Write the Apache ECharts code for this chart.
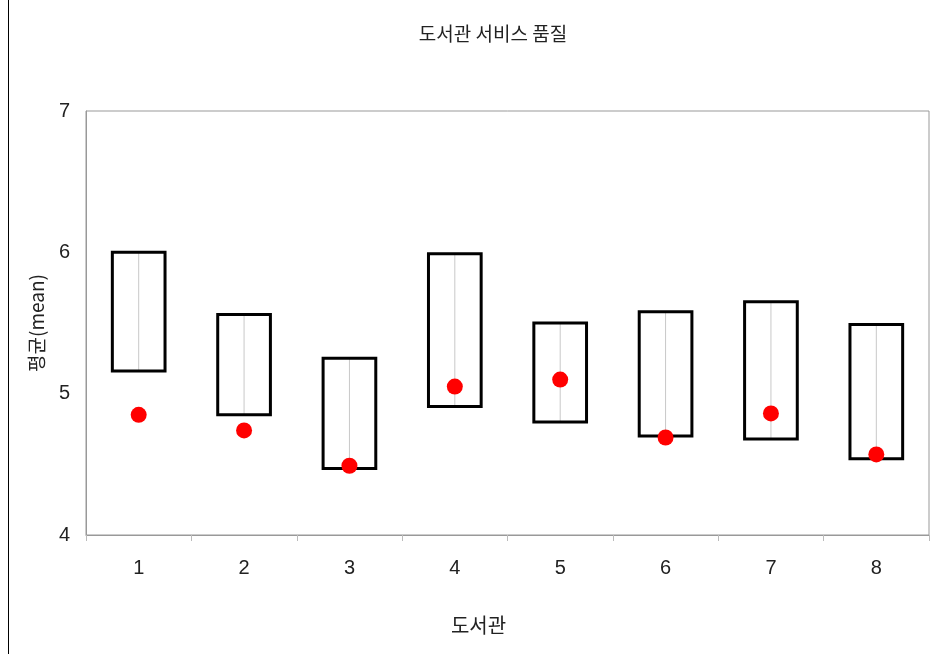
<!DOCTYPE html>
<html>
<head>
<meta charset="utf-8">
<script src="https://cdn.jsdelivr.net/npm/echarts@6/dist/echarts.min.js"></script>
<style>
  html, body { margin: 0; padding: 0; background: #fff; }
  #chart { width: 933px; height: 654px; }
</style>
</head>
<body>
<div id="chart"></div>
<script>
// 도서관별 값
const libraries = ['1', '2', '3', '4', '5', '6', '7', '8'];
const boxHigh = [6.00, 5.56, 5.25, 5.99, 5.50, 5.58, 5.65, 5.49];
const boxLow = [5.16, 4.85, 4.47, 4.91, 4.80, 4.70, 4.68, 4.54];
const means = [4.85, 4.74, 4.49, 5.05, 5.10, 4.69, 4.86, 4.57];

const chart = echarts.init(document.getElementById('chart'));

const boxData = libraries.map((c, i) => [i, boxLow[i], boxHigh[i]]);

function renderBox(params, api) {
  const x = api.value(0);
  const lo = api.coord([x, api.value(1)]);
  const hi = api.coord([x, api.value(2)]);
  const w = api.size([1, 0])[0] * 0.5;
  return {
    type: 'group',
    children: [
      {
        type: 'line',
        shape: { x1: lo[0], y1: hi[1], x2: lo[0], y2: lo[1] },
        style: { stroke: '#c8c8c8', lineWidth: 1 }
      },
      {
        type: 'rect',
        shape: { x: lo[0] - w / 2, y: hi[1], width: w, height: lo[1] - hi[1] },
        style: { fill: 'none', stroke: '#000', lineWidth: 3 }
      }
    ]
  };
}

const option = {
  animation: false,
  backgroundColor: '#fff',
  textStyle: { fontFamily: 'Liberation Sans, Noto Sans CJK KR' },
  title: {
    text: '도서관 서비스 품질',
    left: 488,
    top: 19,
    textAlign: 'center',
    textStyle: {
      fontFamily: 'Noto Sans CJK KR',
      fontSize: 19,
      fontWeight: 'normal',
      color: '#222'
    }
  },
  graphic: [
    {
      type: 'line',
      shape: { x1: 8.5, y1: 0, x2: 8.5, y2: 654 },
      style: { stroke: '#000', lineWidth: 1 }
    }
  ],
  grid: {
    left: 86,
    right: 4,
    top: 111,
    bottom: 119,
    show: true,
    borderColor: '#999',
    borderWidth: 1
  },
  xAxis: {
    type: 'category',
    data: libraries,
    name: '도서관',
    nameLocation: 'middle',
    nameGap: 80,
    nameTextStyle: {
      fontFamily: 'Noto Sans CJK KR',
      fontSize: 20,
      color: '#222',
      padding: [0, 58, 0, 0]
    },
    axisLine: { lineStyle: { color: '#999' } },
    axisTick: { show: true, length: 6, lineStyle: { color: '#bbb' } },
    axisLabel: { fontSize: 20, color: '#222', margin: 23 },
    splitLine: { show: false }
  },
  yAxis: {
    type: 'value',
    min: 4,
    max: 7,
    interval: 1,
    name: '평균(mean)',
    nameLocation: 'middle',
    nameGap: 40,
    nameTextStyle: { fontFamily: 'Noto Sans CJK KR', fontSize: 19, color: '#222' },
    axisLine: { show: true, lineStyle: { color: '#999' } },
    axisTick: { show: false },
    axisLabel: { fontSize: 20, color: '#222', margin: 16 },
    splitLine: { show: false }
  },
  series: [
    {
      type: 'custom',
      renderItem: renderBox,
      encode: { x: 0, y: [1, 2] },
      data: boxData,
      z: 2
    },
    {
      type: 'scatter',
      data: means,
      symbol: 'circle',
      symbolSize: 16,
      itemStyle: { color: '#ff0000', opacity: 1 },
      z: 3
    }
  ]
};

chart.setOption(option);
</script>
</body>
</html>
